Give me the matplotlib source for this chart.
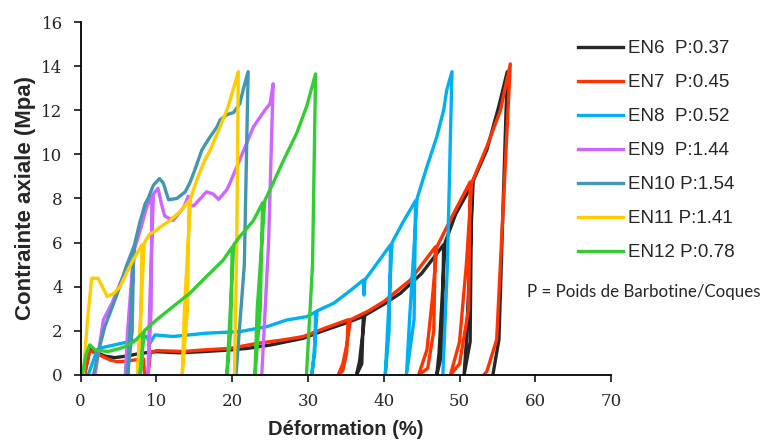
import matplotlib
matplotlib.use("Agg")
import matplotlib.pyplot as plt

# EN6 .. EN12: loading / unloading cycles (strain %, stress MPa)
en6_x = [0.5, 1.2, 2.2, 3.2, 4.5, 6.0, 8.0, 10.0, 13.0, 16.0, 19.7, 22.0, 25.0, 29.4, 32.0, 35.0, 37.3,
         37.1, 36.4, 36.8, 37.5, 40.0, 42.2, 45.0, 47.9,
         47.7, 47.0, 47.3, 48.1, 49.5, 51.6,
         51.4, 50.6, 50.9, 51.8, 53.6, 55.2, 56.3,
         55.2, 54.4]
en6_y = [0.0, 1.15, 1.0, 0.85, 0.78, 0.85, 0.98, 1.05, 1.0, 1.05, 1.13, 1.2, 1.35, 1.66, 2.0, 2.35, 2.65,
         0.5, 0.0, 0.6, 2.7, 3.2, 3.7, 4.6, 5.9,
         1.0, 0.0, 1.0, 6.0, 7.3, 8.6,
         1.5, 0.0, 1.5, 8.8, 10.2, 12.2, 13.75,
         1.6, 0.0]

en7_x = [0.5, 1.2, 2.2, 3.2, 4.0, 4.75, 6.0, 7.2, 8.3,
         8.4, 8.9, 9.2, 10.0, 13.6, 16.2, 19.7, 23.3, 26.8, 29.4, 32.1, 35.3,
         35.1, 34.6, 34.0, 34.6, 35.2, 35.6, 38.0, 40.0, 43.5, 46.8,
         46.6, 45.8, 44.6, 45.7, 46.4, 47.0, 49.2, 51.4,
         51.2, 50.0, 48.8, 50.0, 50.9, 51.6, 53.6, 55.4, 56.7,
         54.9, 53.6, 53.2]
en7_y = [0.0, 1.1, 0.95, 0.78, 0.66, 0.6, 0.62, 0.68, 0.72,
         0.1, 0.0, 1.0, 1.1, 1.06, 1.13, 1.2, 1.43, 1.59, 1.74, 2.1, 2.5,
         1.0, 0.2, 0.0, 0.5, 1.5, 2.5, 2.9, 3.32, 4.3, 5.8,
         2.0, 0.3, 0.0, 1.13, 3.4, 5.8, 7.3, 8.75,
         3.0, 0.5, 0.0, 1.5, 5.0, 8.7, 10.35, 12.0, 14.1,
         1.6, 0.15, 0.0]

en8_x = [1.0, 2.2, 3.0, 5.0, 7.0, 8.7, 9.15, 9.8, 12.2, 16.6, 21.0, 24.6, 27.2, 29.85, 31.0,
         30.9, 30.5, 30.8, 31.2, 33.4, 35.5, 37.3, 37.4, 37.5, 39.0, 40.9,
         40.7, 40.2, 40.5, 41.1, 42.5, 44.2,
         44.0, 43.0, 43.4, 44.4, 45.7, 47.0, 47.9, 48.3, 49.0,
         48.4, 47.8]
en8_y = [0.0, 1.15, 1.25, 1.4, 1.55, 1.74, 1.44, 1.81, 1.74, 1.89, 1.96, 2.19, 2.49, 2.64, 2.85,
         1.0, 0.0, 1.0, 2.9, 3.25, 3.8, 4.3, 3.62, 4.3, 5.0, 5.9,
         2.0, 0.0, 2.0, 6.0, 6.9, 7.9,
         2.5, 0.0, 2.5, 8.0, 9.44, 10.8, 12.0, 12.9, 13.75,
         5.0, 0.0]

en9_x = [1.9, 3.0, 4.2, 5.2, 6.9,
         6.7, 5.9, 6.2, 7.0, 7.9, 8.7, 9.4,
         9.3, 8.9, 9.1, 9.6, 10.2, 10.7, 11.1, 12.2, 13.6, 14.2, 14.4, 14.9, 16.6, 17.5, 18.2,
         19.3, 19.7, 21.0, 22.8, 24.3, 25.0, 25.4,
         24.8, 23.9]
en9_y = [0.0, 2.5, 3.3, 4.15, 5.5,
         2.0, 0.0, 2.0, 5.6, 6.6, 7.6, 8.1,
         3.0, 0.0, 3.0, 8.2, 8.46, 7.7, 7.2, 7.0, 7.6, 8.1, 7.7, 7.66, 8.3, 8.2, 7.96,
         8.4, 8.7, 9.75, 11.25, 12.0, 12.3, 13.2,
         6.0, 0.0]

en10_x = [1.7, 2.3, 3.2, 4.2, 5.0, 6.0, 7.0,
          6.8, 6.2, 6.5, 7.1, 7.8, 8.5, 8.9, 9.6, 10.4, 10.9, 11.6, 12.7, 13.8, 14.4, 14.9, 16.0,
          16.9, 18.0, 18.4, 19.3, 20.2, 21.0, 21.5, 22.1,
          21.6, 20.5]
en10_y = [0.0, 1.0, 2.2, 3.1, 3.85, 4.9, 5.8,
          2.0, 0.0, 2.0, 5.9, 6.9, 7.75, 8.0, 8.6, 8.9, 8.7, 7.94, 8.0, 8.3, 8.7, 9.14, 10.2,
          10.7, 11.25, 11.56, 11.8, 11.9, 12.3, 13.0, 13.75,
          5.0, 0.0]

en11_x = [0.35, 0.9, 1.45, 2.3, 3.0, 3.5, 4.4, 5.2, 6.3, 7.4, 8.1,
          7.9, 7.5, 7.8, 8.4, 9.15, 9.8, 10.5, 11.8, 13.1, 14.3,
          14.1, 13.4, 13.7, 14.5, 15.5, 16.4, 17.1, 18.4, 19.5, 20.6, 20.8,
          20.6, 20.3]
en11_y = [0.0, 2.5, 4.38, 4.38, 3.9, 3.55, 3.7, 4.0, 4.8, 5.5, 5.9,
          2.0, 0.0, 2.0, 6.0, 6.4, 6.5, 6.7, 7.0, 7.4, 7.9,
          3.0, 0.0, 3.0, 8.0, 9.0, 9.75, 10.2, 11.25, 12.2, 13.5, 13.75,
          6.0, 0.0]

en12_x = [0.2, 0.7, 1.2, 1.9, 2.5, 3.65, 5.0, 5.85, 7.0, 8.2,
          8.1, 7.8, 7.95, 8.4, 10.0, 12.2, 14.4, 16.6, 18.8, 20.0,
          19.8, 19.3, 19.6, 20.2, 21.0, 22.8, 24.0,
          23.7, 23.0, 23.3, 24.3, 25.4, 26.8, 28.5, 29.85, 31.0,
          30.6, 29.8]
en12_y = [0.0, 0.9, 1.36, 1.13, 1.1, 1.06, 1.18, 1.28, 1.5, 1.9,
          0.5, 0.0, 0.5, 2.0, 2.49, 3.1, 3.7, 4.46, 5.2, 5.8,
          2.0, 0.0, 2.0, 5.9, 6.27, 7.0, 7.8,
          3.0, 0.0, 3.0, 7.9, 8.7, 9.75, 10.95, 12.2, 13.65,
          5.0, 0.0]

labels = ["EN6  P:0.37", "EN7  P:0.45", "EN8  P:0.52", "EN9  P:1.44",
          "EN10 P:1.54", "EN11 P:1.41", "EN12 P:0.78"]
colors = ["#262626", "#FF3300", "#00B0F0", "#CC66FF", "#4197AF", "#FFCC00", "#33CC33"]
series = [(en6_x, en6_y), (en7_x, en7_y), (en8_x, en8_y), (en9_x, en9_y),
          (en10_x, en10_y), (en11_x, en11_y), (en12_x, en12_y)]

fig = plt.figure(figsize=(7.61, 4.41), dpi=100)
ax = fig.add_axes([0.106, 0.150, 0.697, 0.800])

handles = []
for (x, y), c, lab in zip(series, colors, labels):
    h, = ax.plot(x, y, color=c, lw=2.4, label=lab, solid_joinstyle="round")
    handles.append(h)

ax.set_xlim(0, 70)
ax.set_ylim(0, 16)
ax.set_xticks(range(0, 71, 10))
ax.set_yticks(range(0, 17, 2))
for s in ["top", "right"]:
    ax.spines[s].set_visible(False)
for s in ["left", "bottom"]:
    ax.spines[s].set_linewidth(1.3)
ax.tick_params(direction="out", length=5, width=1.3, labelsize=12, colors="#262626")
ax.tick_params(axis="x", pad=8)
ax.tick_params(axis="y", pad=8)
for t in ax.get_xticklabels() + ax.get_yticklabels():
    t.set_fontfamily("DejaVu Serif")

ax.set_xlabel("Déformation (%)", fontsize=14.5, fontweight="bold", family="Liberation Sans",
              color="#262626", labelpad=7)
ax.set_ylabel("Contrainte axiale (Mpa)", fontsize=16, fontweight="bold", family="Liberation Sans",
              color="#262626", labelpad=4)

fig.legend(handles, labels, loc="upper left", bbox_to_anchor=(578 / 761, 1 - 40 / 441),
           frameon=False, prop={"family": "Liberation Sans", "size": 13.5},
           handlelength=2.4, handletextpad=0.25, labelspacing=0.9,
           borderpad=0, borderaxespad=0, labelcolor="#262626")

fig.text(527 / 761, 1 - 292 / 441, "P = Poids de Barbotine/Coques", fontsize=12.2,
         family="Lato", color="#262626", va="center", ha="left")

fig.savefig("out.png", dpi=100)
